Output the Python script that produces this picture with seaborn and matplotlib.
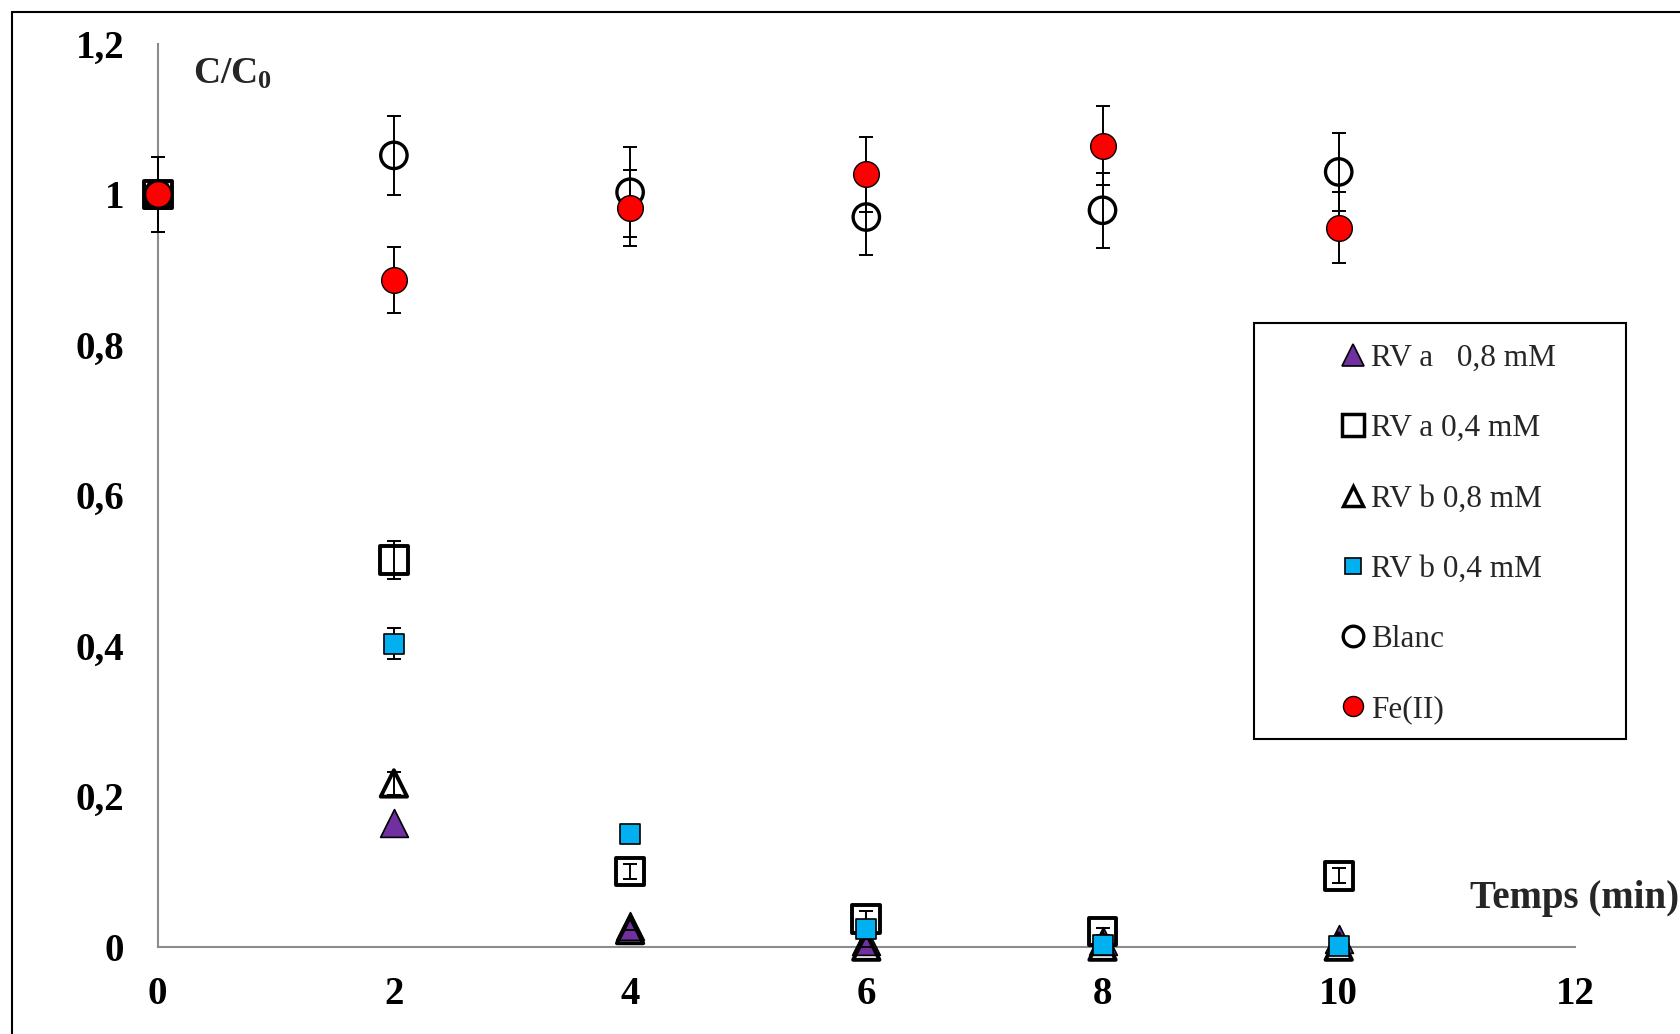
"""
Cinétique de décoloration C/C0 en fonction du temps.
"""
import matplotlib
matplotlib.use("Agg")
import matplotlib.pyplot as plt
import seaborn as sns
import pandas as pd
from matplotlib.lines import Line2D
from matplotlib.patches import Rectangle

# Données
temps = [0, 2, 4, 6, 8, 10]
rva_08 = [1.0, 0.165, 0.027, 0.008, 0.008, 0.010]
rva_04 = [1.0, 0.514, 0.100, 0.037, 0.020, 0.094]
rvb_08 = [1.0, 0.217, 0.022, 0.0, 0.0, 0.0]
rvb_04 = [1.0, 0.403, 0.150, 0.024, 0.002, 0.001]
blanc = [1.0, 1.052, 1.003, 0.970, 0.979, 1.030]
fe2 = [1.0, 0.886, 0.982, 1.027, 1.065, 0.956]

err_rva_08 = [0.0, 0.0, 0.0, 0.0, 0.0, 0.0]
err_rva_04 = [0.0, 0.025, 0.01, 0.01, 0.005, 0.01]
err_rvb_08 = [0.0, 0.015, 0.0, 0.0, 0.0, 0.0]
err_rvb_04 = [0.0, 0.02, 0.0, 0.01, 0.008, 0.0]
err_blanc = [0.05, 0.053, 0.06, 0.05, 0.05, 0.052]
err_fe2 = [0.05, 0.044, 0.05, 0.05, 0.053, 0.047]

labels = ["RV a   0,8 mM", "RV a 0,4 mM", "RV b 0,8 mM", "RV b 0,4 mM", "Blanc", "Fe(II)"]

sns.set_style("white")
plt.rcParams["font.family"] = ["Liberation Serif", "DejaVu Serif"]
plt.rcParams["mathtext.fontset"] = "custom"
plt.rcParams["mathtext.rm"] = "Liberation Serif"
plt.rcParams["mathtext.bf"] = "Liberation Serif:bold"

fig = plt.figure(figsize=(16.81, 10.34), dpi=100)
ax = fig.add_axes([0.0938, 0.0845, 0.8431, 0.8729])

# (valeurs, erreurs, marqueur, taille, face, bord, épaisseur bord)
series = [
    (rva_08, err_rva_08, "^", 20, "#7030A0", "black", 1.2),
    (rva_04, err_rva_04, "s", 20, "none", "black", 2.8),
    (rvb_08, err_rvb_08, "^", 19, "none", "black", 2.8),
    (rvb_04, err_rvb_04, "s", 14, "#00B0F0", "black", 1.2),
    (blanc, err_blanc, "o", 19, "none", "black", 2.4),
    (fe2, err_fe2, "o", 18.5, "#FF0000", "black", 1.0),
]

z = 3
for (vals, errs, mk, ms, fc, ec, lw), lab in zip(series, labels):
    df = pd.DataFrame({"temps": temps, "c": vals})
    ax.errorbar(temps, vals, yerr=errs, fmt="none", ecolor="black",
                elinewidth=1.4, capsize=4.7, capthick=1.4, zorder=z, clip_on=False)
    sns.scatterplot(data=df, x="temps", y="c", ax=ax, marker=mk, s=ms ** 2,
                    facecolor=fc, edgecolor=ec, linewidth=lw, zorder=z + 1,
                    clip_on=False, legend=False)
    z += 2

ax.set_xlim(0, 12)
ax.set_ylim(0, 1.2)
ax.set_xticks(range(0, 13, 2))
ax.set_yticks([0, 0.2, 0.4, 0.6, 0.8, 1.0, 1.2])
ax.set_yticklabels(["0", "0,2", "0,4", "0,6", "0,8", "1", "1,2"])
ax.set_xlabel("")
ax.set_ylabel("")

for s in ["top", "right"]:
    ax.spines[s].set_visible(False)
for s in ["left", "bottom"]:
    ax.spines[s].set_color("#8c8c8c")
    ax.spines[s].set_linewidth(1.5)

ax.tick_params(axis="both", direction="out", length=7, width=1.5, color="#8c8c8c",
               labelsize=28, labelcolor="black")
ax.tick_params(axis="y", pad=17)
ax.tick_params(axis="x", pad=14)
for t in ax.get_xticklabels() + ax.get_yticklabels():
    t.set_fontweight("bold")

ax.text(0.3, 1.16, r"$\mathbf{C/C_0}$", fontsize=27, ha="left", va="center")
ax.text(12.88, 0.064, "Temps (min)", fontsize=28, fontweight="bold",
        ha="right", va="center", clip_on=False)

# Légende
handles = [Line2D([], [], linestyle="none", marker=mk, markersize=ms * 0.78,
                  markerfacecolor=fc, markeredgecolor=ec, markeredgewidth=min(lw, 2.5))
           for (_, _, mk, ms, fc, ec, lw) in series]
fig.legend(handles, labels, loc="upper left", bbox_to_anchor=(1341 / 1681, 1 - 344 / 1034),
           bbox_transform=fig.transFigure, frameon=False, fontsize=22.5,
           borderpad=0, borderaxespad=0, handlelength=0.75, handletextpad=0.2,
           labelspacing=1.32)
fig.add_artist(Rectangle((1254 / 1681, 1 - 739 / 1034), 372 / 1681, 416 / 1034,
                         transform=fig.transFigure, facecolor="none",
                         edgecolor="black", linewidth=1.5))

# Cadre extérieur
fig.add_artist(Line2D([12 / 1681, 12 / 1681], [0, 1 - 12 / 1034],
                      transform=fig.transFigure, color="black", linewidth=1.5))
fig.add_artist(Line2D([12 / 1681, 1], [1 - 12 / 1034, 1 - 12 / 1034],
                      transform=fig.transFigure, color="black", linewidth=1.5))

fig.savefig("out.png", dpi=100)
